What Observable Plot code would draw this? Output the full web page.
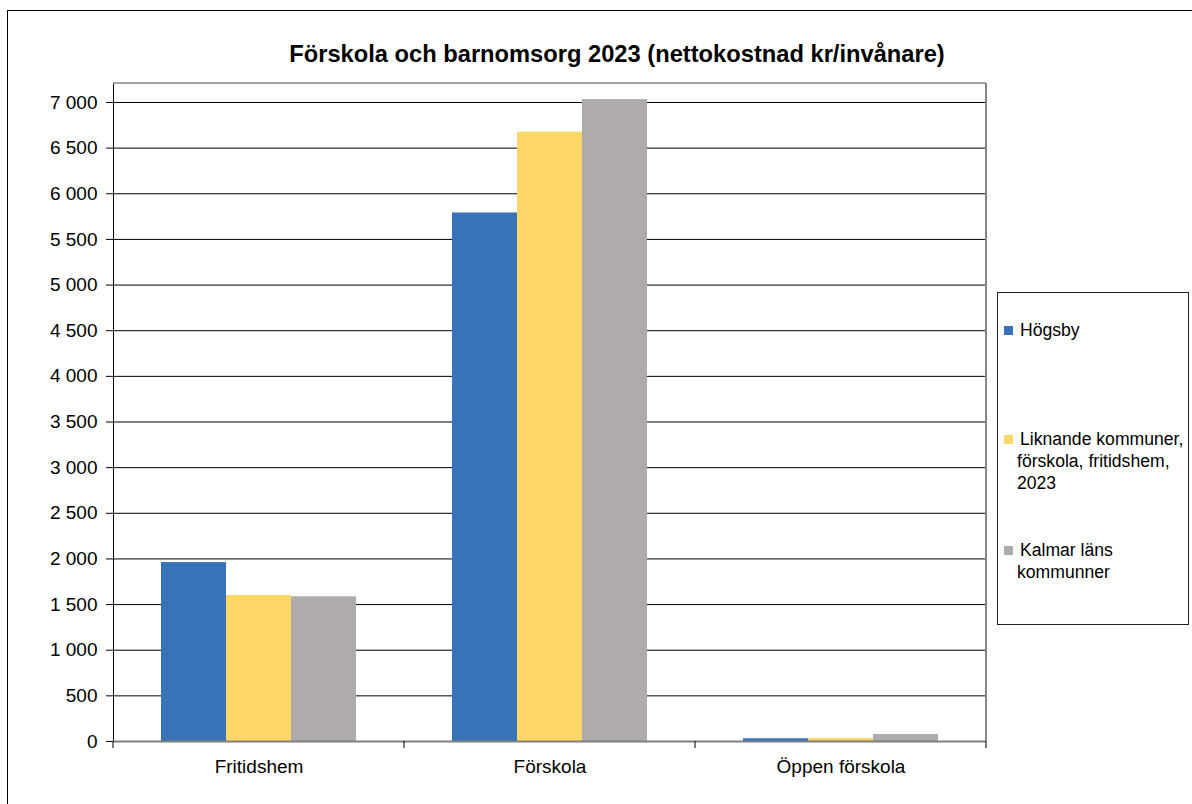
<!DOCTYPE html>
<html>
<head>
<meta charset="utf-8">
<script src="https://cdn.jsdelivr.net/npm/d3@7"></script>
<script src="https://cdn.jsdelivr.net/npm/@observablehq/plot@0.6"></script>
<style>
  html, body { margin: 0; padding: 0; background: #fff; overflow: hidden; }
  #wrap { position: relative; width: 1192px; height: 804px; overflow: hidden; font-family: "Liberation Sans", Arial, sans-serif; }
  #border { position: absolute; left: 7px; top: 10px; width: 1250px; height: 850px; border: 1.5px solid #000; box-sizing: border-box; }
  #title { position: absolute; left: 617px; top: 43px; transform: translateX(-50%); font-weight: bold; font-size: 23.7px; line-height: 1; white-space: nowrap; color: #000; }
  #chart { position: absolute; left: 0; top: 0; }
  #legend { position: absolute; left: 997px; top: 292px; width: 192px; height: 333px; border: 1px solid #222; box-sizing: border-box; }
  .entry { position: absolute; left: 19px; font-size: 17.6px; line-height: 22px; white-space: nowrap; text-indent: -13px; color: #000; }
  .sw { display: inline-block; width: 9px; height: 9px; margin-right: 7px; vertical-align: 1px; }
</style>
</head>
<body>
<div id="wrap">
  <div id="border"></div>
  <div id="chart"></div>
  <div id="title">Förskola och barnomsorg 2023 (nettokostnad kr/invånare)</div>
  <div id="legend"></div>
</div>
<script>
const categories = ["Fritidshem", "Förskola", "Öppen förskola"];
const seriesNames = ["Högsby", "Liknande kommuner, förskola, fritidshem, 2023", "Kalmar läns kommunner"];
const legendLines = [["Högsby"], ["Liknande kommuner,", "förskola, fritidshem,", "2023"], ["Kalmar läns", "kommunner"]];
const colors = ["#3873BA", "#FDD869", "#AEABAA"];
const hogsby = [1960, 5790, 30];
const liknande = [1600, 6675, 32];
const kalmar = [1585, 7032, 77];
const yTicks = [0, 500, 1000, 1500, 2000, 2500, 3000, 3500, 4000, 4500, 5000, 5500, 6000, 6500, 7000];
const yMax = 7208;

const seriesValues = [hogsby, liknande, kalmar];
const rows = [];
categories.forEach((c, i) => seriesNames.forEach((s, j) => rows.push({category: c, series: s, value: seriesValues[j][i]})));

const loc = d3.formatLocale({decimal: ",", thousands: " ", grouping: [3], currency: ["", ""]});
const fmt = loc.format(",d");

const plot = Plot.plot({
  width: 1192,
  height: 804,
  marginLeft: 113,
  marginRight: 206,
  marginTop: 83,
  marginBottom: 63,
  style: {fontFamily: "'Liberation Sans', Arial, sans-serif", fontSize: "19px", color: "#000", background: "transparent", overflow: "visible"},
  facet: {data: rows, x: "category"},
  fx: {domain: categories, padding: 0, axis: "bottom", label: null, tickSize: 0, tickPadding: 18},
  x: {domain: seriesNames, axis: null, paddingInner: 0, paddingOuter: 0.73},
  y: {domain: [0, yMax], ticks: yTicks, tickFormat: fmt, tickSize: 7, tickPadding: 9, label: null, line: true},
  color: {domain: seriesNames, range: colors},
  marks: [
    Plot.ruleY(yTicks.filter(d => d > 0), {stroke: "#000", strokeWidth: 1}),
    Plot.barY(rows, {x: "series", y: "value", fill: "series"}),
    Plot.ruleY([0], {stroke: "#7f7f7f", strokeWidth: 2})
  ]
});
document.getElementById("chart").appendChild(plot);

// frame & category boundary ticks derived from the plot's own scales
const fx = plot.scale("fx");
const ys = plot.scale("y");
const x0 = fx.apply(categories[0]);
const x1 = fx.apply(categories[categories.length - 1]) + fx.bandwidth;
const yTop = ys.apply(yMax), yBot = ys.apply(0);
const svg = d3.select(plot);
const g = svg.append("g");
g.append("line").attr("x1", x0).attr("x2", x1).attr("y1", yTop).attr("y2", yTop).attr("stroke", "#868686").attr("stroke-width", 1.5);
g.append("line").attr("x1", x1).attr("x2", x1).attr("y1", yTop).attr("y2", yBot).attr("stroke", "#868686").attr("stroke-width", 2);
const bounds = categories.map(c => fx.apply(c)).concat([x1]);
g.selectAll("line.b").data(bounds).join("line").attr("class", "b")
  .attr("x1", d => d).attr("x2", d => d).attr("y1", yBot).attr("y2", yBot + 7)
  .attr("stroke", "#000").attr("stroke-width", 1);

// legend
const legend = document.getElementById("legend");
const tops = [26, 135, 246];
legendLines.forEach((lines, i) => {
  const div = document.createElement("div");
  div.className = "entry";
  div.style.top = tops[i] + "px";
  const sw = document.createElement("span");
  sw.className = "sw";
  sw.style.background = colors[i];
  div.appendChild(sw);
  lines.forEach((ln, k) => {
    if (k > 0) div.appendChild(document.createElement("br"));
    div.appendChild(document.createTextNode(ln));
  });
  legend.appendChild(div);
});
</script>
</body>
</html>
